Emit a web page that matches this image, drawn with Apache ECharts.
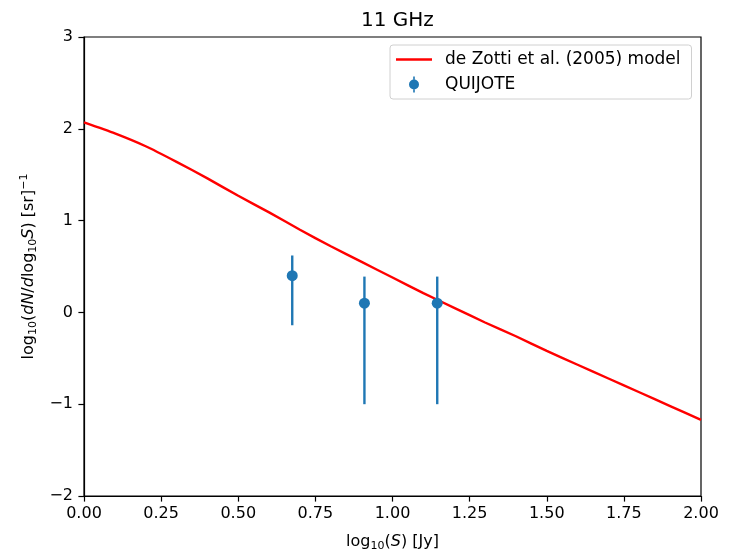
<!DOCTYPE html>
<html>
<head>
<meta charset="utf-8">
<script src="https://cdn.jsdelivr.net/npm/echarts@6/dist/echarts.min.js"></script>
<style>html,body{margin:0;padding:0;background:#fff}#c{width:736px;height:552px}</style>
</head>
<body>
<div id="c"></div>
<script>
// Model curve (de Zotti et al. 2005)
var modelX = [0, 0.1, 0.2, 0.3, 0.4, 0.5, 0.6, 0.7, 0.8, 0.9, 1.0, 1.1, 1.2, 1.3, 1.4, 1.5, 1.6, 1.7, 1.8, 1.9, 2.0];
var modelY = [2.07, 1.95, 1.81, 1.64, 1.46, 1.27, 1.09, 0.90, 0.72, 0.55, 0.38, 0.21, 0.05, -0.11, -0.26, -0.42, -0.57, -0.72, -0.87, -1.02, -1.17];
// QUIJOTE points
var qX = [0.675, 0.909, 1.145];
var qY = [0.40, 0.10, 0.10];
var qLow = [-0.14, -1.00, -1.00];
var qHigh = [0.62, 0.39, 0.39];
var xTicks = [0, 0.25, 0.5, 0.75, 1.0, 1.25, 1.5, 1.75, 2.0];
var yTicks = [-2, -1, 0, 1, 2, 3];

var FONT = 'DejaVu Sans';
var chart = echarts.init(document.getElementById('c'), null, {renderer: 'canvas'});
var modelData = modelX.map(function (x, i) { return [x, modelY[i]]; });
var qData = qX.map(function (x, i) { return [x, qY[i]]; });
var errData = qX.map(function (x, i) { return [x, qLow[i], qHigh[i]]; });
var sub = {fontSize: 11, fontFamily: FONT, verticalAlign: 'bottom', lineHeight: 11, color: '#000'};
var sup = {fontSize: 11, fontFamily: FONT, verticalAlign: 'top', lineHeight: 11, color: '#000'};
var norm = {fontSize: 16, fontFamily: FONT, color: '#000', lineHeight: 20};
var ital = {fontSize: 16, fontFamily: FONT, fontStyle: 'italic', color: '#000', lineHeight: 20};

chart.setOption({
  animation: false,
  backgroundColor: '#fff',
  title: {
    text: '11 GHz', left: 356, top: 6,
    textStyle: {fontFamily: FONT, fontSize: 20, fontWeight: 'normal', color: '#000'}
  },
  grid: {left: 84, right: 35, top: 37, bottom: 56, containLabel: false, outerBoundsMode: 'none',
    show: true, borderColor: '#000', borderWidth: 1.2, backgroundColor: '#fff'},
  legend: {
    left: 390, top: 45, orient: 'vertical',
    padding: [6, 11, 6, 6],
    itemWidth: 36, itemHeight: 16, itemGap: 8,
    borderColor: '#d0d0d0', borderWidth: 1, borderRadius: 3, backgroundColor: 'rgba(255,255,255,0.8)',
    textStyle: {fontFamily: FONT, fontSize: 17, color: '#000', padding: [0, 0, 0, 8]},
    data: [
      {name: 'de Zotti et al. (2005) model', icon: 'path://M0,0 L36,0 L36,2.4 L0,2.4 Z'},
      {name: 'QUIJOTE', icon: 'path://M4.2,0 L5.8,0 L5.8,3 L4.2,3 Z M4.2,13 L5.8,13 L5.8,16 L4.2,16 Z M0,8 A5,5 0 1,1 10,8 A5,5 0 1,1 0,8 Z'}
    ]
  },
  xAxis: {
    type: 'value', min: 0, max: 2, interval: 0.25,
    name: '{a|log}{s|10}{a|(}{i|S}{a|) [Jy]}',
    nameLocation: 'middle', nameGap: 36,
    nameTextStyle: {rich: {a: norm, s: sub, i: ital}},
    axisLine: {show: true, onZero: false, lineStyle: {color: '#000', width: 1.2}},
    axisTick: {show: true, inside: false, length: 5.6, lineStyle: {color: '#000', width: 1.2}},
    axisLabel: {fontFamily: FONT, fontSize: 16, color: '#000', margin: 10, formatter: function (v) { return v.toFixed(2); }},
    splitLine: {show: false}
  },
  yAxis: {
    type: 'value', min: -2, max: 3, interval: 1,
    name: '{a|log}{s|10}{a|(}{i|dN}{a|/}{i|d}{a|log}{s|10}{i|S}{a|) [sr]}{p|\u22121}',
    nameLocation: 'middle', nameGap: 39, nameRotate: 90,
    nameTextStyle: {rich: {a: norm, s: sub, i: ital, p: sup}},
    axisLine: {show: true, onZero: false, lineStyle: {color: '#000', width: 1.2}},
    axisTick: {show: true, inside: false, length: 5.6, lineStyle: {color: '#000', width: 1.2}},
    axisLabel: {fontFamily: FONT, fontSize: 16, color: '#000', margin: 11, formatter: function (v) { return v < 0 ? '\u2212' + Math.abs(v) : String(v); }},
    splitLine: {show: false}
  },
  series: [
    {
      name: 'de Zotti et al. (2005) model', type: 'line', data: modelData,
      smooth: 0.2, showSymbol: false, symbol: 'none',
      lineStyle: {color: '#ff0000', width: 2.4}, itemStyle: {color: '#ff0000'}, z: 3
    },
    {
      name: 'QUIJOTE-err', type: 'custom', data: errData,
      renderItem: function (params, api) {
        var p1 = api.coord([api.value(0), api.value(1)]);
        var p2 = api.coord([api.value(0), api.value(2)]);
        return {type: 'line', shape: {x1: p1[0], y1: p1[1], x2: p2[0], y2: p2[1]},
          style: {stroke: '#1f77b4', lineWidth: 2.4}};
      },
      z: 4
    },
    {
      name: 'QUIJOTE', type: 'scatter', data: qData, symbolSize: 11,
      itemStyle: {color: '#1f77b4', opacity: 1}, z: 5
    }
  ]
});
</script>
</body>
</html>
